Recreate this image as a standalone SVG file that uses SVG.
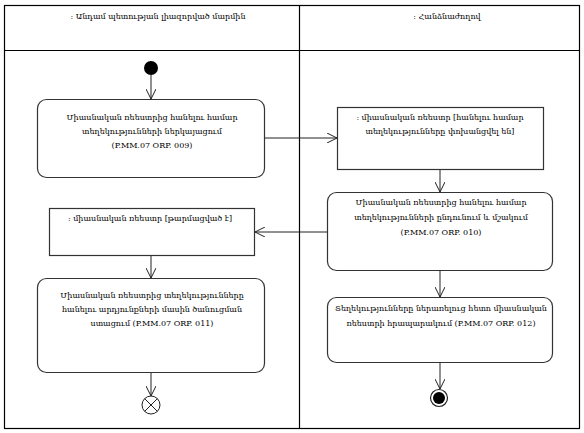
<svg xmlns="http://www.w3.org/2000/svg" width="584" height="433" viewBox="0 0 584 433">
<style>
.lane{fill:none;stroke:#000;stroke-width:1.2}
.node{fill:#fff;stroke:#333;stroke-width:1.2}
.t{font-family:"DejaVu Serif","Noto Serif","Noto Sans",serif;font-size:8px;fill:#000;text-anchor:middle}
.c{fill:none;stroke:#222;stroke-width:1}
</style>
<defs>
<marker id="a" viewBox="0 0 10 10" refX="10" refY="5" markerWidth="10" markerHeight="10" markerUnits="userSpaceOnUse" orient="auto">
<path d="M0,0 L10,5 L0,10" fill="none" stroke="#222" stroke-width="1"/>
</marker>
</defs>
<rect width="584" height="433" fill="#fff"/>
<g id="lanes">
<rect class="lane" x="4.5" y="5.5" width="575" height="423"/>
<line class="lane" x1="4.5" y1="50.5" x2="579.5" y2="50.5"/>
<line class="lane" x1="299.5" y1="5.5" x2="299.5" y2="428.5"/>
<text class="t" x="158" y="19">: Անդամ պետության լիազորված մարմին</text>
<text class="t" x="447" y="19">: Հանձնաժողով</text>
</g>
<g id="connectors">
<line class="c" x1="151" y1="75" x2="151" y2="99" marker-end="url(#a)"/>
<line class="c" x1="264" y1="138" x2="337" y2="138" marker-end="url(#a)"/>
<line class="c" x1="440" y1="169" x2="440" y2="192" marker-end="url(#a)"/>
<line class="c" x1="327" y1="232" x2="255" y2="232" marker-end="url(#a)"/>
<line class="c" x1="151" y1="256" x2="151" y2="278" marker-end="url(#a)"/>
<line class="c" x1="151" y1="372" x2="151" y2="396" marker-end="url(#a)"/>
<line class="c" x1="440" y1="270" x2="440" y2="297" marker-end="url(#a)"/>
<line class="c" x1="440" y1="363" x2="440" y2="389" marker-end="url(#a)"/>
</g>
<g id="start"><circle cx="151" cy="68" r="7" fill="#000"/></g>
<g id="n009">
<rect class="node" x="37.5" y="99.5" width="227" height="78" rx="9"/>
<text class="t" x="152" y="120">Միասնական ռեեստրից հանելու համար</text>
<text class="t" x="152" y="134">տեղեկությունների ներկայացում</text>
<text class="t" x="152" y="148">(P.MM.07 ORP. 009)</text>
</g>
<g id="obj1">
<rect class="node" x="337.5" y="107.5" width="206" height="62"/>
<text class="t" x="440" y="120">: միասնական ռեեստր [հանելու համար</text>
<text class="t" x="440" y="134">տեղեկությունները փոխանցվել են]</text>
</g>
<g id="n010">
<rect class="node" x="327.5" y="192.5" width="225" height="78" rx="9"/>
<text class="t" x="441" y="205">Միասնական ռեեստրից հանելու համար</text>
<text class="t" x="441" y="220">տեղեկությունների ընդունում  և մշակում</text>
<text class="t" x="441" y="235">(P.MM.07 ORP. 010)</text>
</g>
<g id="obj2">
<rect class="node" x="49.5" y="208.5" width="205" height="47"/>
<text class="t" x="150" y="221">: միասնական ռեեստր [թարմացված է]</text>
</g>
<g id="n011">
<rect class="node" x="37.5" y="278.5" width="227" height="94" rx="9"/>
<text class="t" x="152" y="298">Միասնական ռեեստրից տեղեկությունները</text>
<text class="t" x="152" y="312">հանելու արդյունքների մասին  ծանուցման</text>
<text class="t" x="152" y="326">ստացում (P.MM.07 ORP. 011)</text>
</g>
<g id="n012">
<rect class="node" x="327.5" y="297.5" width="225" height="65" rx="9"/>
<text class="t" x="441" y="311">Տեղեկությունները ներառելուց հետո միասնական</text>
<text class="t" x="441" y="326">ռեեստրի  հրապարակում (P.MM.07 ORP. 012)</text>
</g>
<g id="flowfinal">
<circle cx="151" cy="405" r="9" fill="#fff" stroke="#222" stroke-width="1"/>
<line x1="144.6" y1="398.6" x2="157.4" y2="411.4" stroke="#222" stroke-width="1"/>
<line x1="157.4" y1="398.6" x2="144.6" y2="411.4" stroke="#222" stroke-width="1"/>
</g>
<g id="final">
<circle cx="439" cy="398" r="8.5" fill="#fff" stroke="#222" stroke-width="1.2"/>
<circle cx="439" cy="398" r="6" fill="#000"/>
</g>
</svg>
